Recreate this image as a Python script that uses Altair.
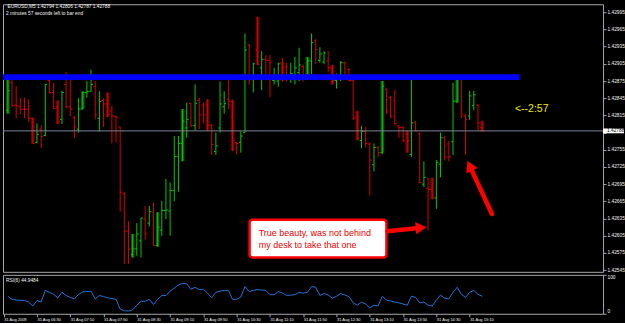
import json
import altair as alt
import pandas as pd

# ---------------- data ----------------
BAR = list(range(1, 116))  # 5-minute bars, 1 = 05:55
OPEN = [1.42824, 1.42872, 1.42833, 1.42830, 1.42826, 1.42826, 1.42810, 1.42768, 1.42791, 1.42780,
        1.42876, 1.42855, 1.42830, 1.42808, 1.42869, 1.42830, 1.42811, 1.42791, 1.42826, 1.42855,
        1.42857, 1.42865, 1.42810, 1.42841, 1.42835, 1.42823, 1.42814, 1.42795, 1.42678, 1.42613,
        1.42572, 1.42582, 1.42596, 1.42634, 1.42627, 1.42646, 1.42588, 1.42615, 1.42649, 1.42648,
        1.42684, 1.42743, 1.42766, 1.42793, 1.42836, 1.42797, 1.42841, 1.42833, 1.42833, 1.42798,
        1.42752, 1.42793, 1.42830, 1.42843, 1.42840, 1.42768, 1.42768, 1.42785, 1.42938, 1.42878,
        1.42929, 1.42898, 1.42913, 1.42911, 1.42876, 1.42875, 1.42907, 1.42900, 1.42881, 1.42881,
        1.42890, 1.42900, 1.42882, 1.42910, 1.42945, 1.42911, 1.42908, 1.42910, 1.42898, 1.42876,
        1.42880, 1.42907, 1.42895, 1.42876, 1.42811, 1.42771, 1.42787, 1.42765, 1.42729, 1.42759,
        1.42750, 1.42861, 1.42846, 1.42840, 1.42797, 1.42794, 1.42782, 1.42747, 1.42802, 1.42783,
        1.42695, 1.42688, 1.42686, 1.42671, 1.42730, 1.42776, 1.42765, 1.42769, 1.42840, 1.42880,
        1.42814, 1.42814, 1.42832, 1.42833, 1.42794]
HIGH = [1.42886, 1.42886, 1.42866, 1.42846, 1.42846, 1.42843, 1.42811, 1.42801, 1.42798, 1.42870,
        1.42878, 1.42872, 1.42841, 1.42858, 1.42891, 1.42881, 1.42814, 1.42845, 1.42857, 1.42875,
        1.42895, 1.42875, 1.42857, 1.42845, 1.42855, 1.42832, 1.42814, 1.42795, 1.42681, 1.42630,
        1.42608, 1.42627, 1.42636, 1.42657, 1.42657, 1.42663, 1.42646, 1.42666, 1.42704, 1.42698,
        1.42779, 1.42779, 1.42826, 1.42837, 1.42837, 1.42869, 1.42846, 1.42837, 1.42843, 1.42800,
        1.42785, 1.42874, 1.42857, 1.42876, 1.42843, 1.42768, 1.42787, 1.42958, 1.42939, 1.42907,
        1.42987, 1.42927, 1.42920, 1.42920, 1.42898, 1.42907, 1.42915, 1.42907, 1.42907, 1.42917,
        1.42933, 1.42904, 1.42917, 1.42958, 1.42948, 1.42934, 1.42927, 1.42927, 1.42903, 1.42888,
        1.42910, 1.42909, 1.42898, 1.42878, 1.42823, 1.42797, 1.42795, 1.42768, 1.42766, 1.42762,
        1.42875, 1.42862, 1.42849, 1.42859, 1.42798, 1.42797, 1.42788, 1.42884, 1.42805, 1.42785,
        1.42735, 1.42706, 1.42706, 1.42737, 1.42785, 1.42779, 1.42771, 1.42872, 1.42884, 1.42884,
        1.42817, 1.42858, 1.42858, 1.42835, 1.42806]
LOW = [1.42818, 1.42830, 1.42810, 1.42817, 1.42810, 1.42804, 1.42766, 1.42766, 1.42758, 1.42779,
       1.42853, 1.42826, 1.42800, 1.42800, 1.42827, 1.42814, 1.42776, 1.42785, 1.42826, 1.42846,
       1.42857, 1.42808, 1.42787, 1.42795, 1.42812, 1.42766, 1.42768, 1.42647, 1.42556, 1.42556,
       1.42567, 1.42570, 1.42567, 1.42598, 1.42621, 1.42588, 1.42586, 1.42605, 1.42634, 1.42605,
       1.42665, 1.42682, 1.42735, 1.42776, 1.42795, 1.42789, 1.42791, 1.42801, 1.42788, 1.42746,
       1.42746, 1.42785, 1.42818, 1.42826, 1.42753, 1.42747, 1.42750, 1.42785, 1.42869, 1.42855,
       1.42903, 1.42859, 1.42876, 1.42847, 1.42869, 1.42865, 1.42874, 1.42875, 1.42872, 1.42869,
       1.42875, 1.42874, 1.42880, 1.42887, 1.42905, 1.42907, 1.42905, 1.42891, 1.42869, 1.42862,
       1.42875, 1.42880, 1.42874, 1.42807, 1.42771, 1.42758, 1.42759, 1.42675, 1.42717, 1.42742,
       1.42747, 1.42817, 1.42810, 1.42798, 1.42776, 1.42768, 1.42750, 1.42742, 1.42787, 1.42696,
       1.42690, 1.42614, 1.42669, 1.42652, 1.42707, 1.42736, 1.42735, 1.42746, 1.42837, 1.42810,
       1.42746, 1.42807, 1.42824, 1.42788, 1.42787]
CLOSE = [1.42858, 1.42832, 1.42832, 1.42826, 1.42826, 1.42810, 1.42766, 1.42782, 1.42778, 1.42869,
         1.42855, 1.42827, 1.42804, 1.42855, 1.42830, 1.42826, 1.42795, 1.42826, 1.42855, 1.42857,
         1.42869, 1.42816, 1.42839, 1.42835, 1.42817, 1.42814, 1.42812, 1.42681, 1.42613, 1.42582,
         1.42582, 1.42608, 1.42636, 1.42608, 1.42647, 1.42588, 1.42620, 1.42649, 1.42650, 1.42684,
         1.42743, 1.42766, 1.42805, 1.42808, 1.42797, 1.42836, 1.42816, 1.42816, 1.42798, 1.42764,
         1.42762, 1.42835, 1.42836, 1.42840, 1.42771, 1.42766, 1.42779, 1.42929, 1.42878, 1.42905,
         1.42904, 1.42913, 1.42911, 1.42907, 1.42878, 1.42905, 1.42898, 1.42884, 1.42888, 1.42898,
         1.42903, 1.42882, 1.42910, 1.42942, 1.42930, 1.42922, 1.42924, 1.42898, 1.42876, 1.42882,
         1.42907, 1.42884, 1.42876, 1.42810, 1.42776, 1.42787, 1.42766, 1.42737, 1.42759, 1.42750,
         1.42866, 1.42823, 1.42814, 1.42801, 1.42794, 1.42771, 1.42771, 1.42802, 1.42788, 1.42698,
         1.42707, 1.42686, 1.42671, 1.42733, 1.42776, 1.42742, 1.42743, 1.42840, 1.42880, 1.42817,
         1.42808, 1.42849, 1.42851, 1.42802, 1.42788]
RSI = [45, 37, 35, 34.5, 34, 30, 20, 34, 30, 60, 55, 50, 41, 55, 47, 42, 38, 50, 56, 57,
       58, 38, 47, 44, 41, 39, 37, 12, 8, 7, 10, 22, 32, 32, 37, 24, 37, 47, 47, 58,
       66, 74, 78, 77, 63, 68, 62, 63, 53, 41, 55, 58, 60, 60, 37, 37, 43, 70, 57, 60,
       62, 61, 60, 49, 49, 57, 53, 47, 48, 49, 55, 53, 55, 70, 68, 47, 52, 48, 40, 45,
       52, 48, 44, 28, 22, 30, 25, 15, 22, 20, 45, 35, 33, 30, 28, 25, 22, 45, 42, 28,
       30, 22, 20, 35, 48, 40, 38, 55, 68, 50, 42, 55, 60, 50, 44.9484]

# wide dark bodies drawn every sixth bar
BODY_BAR = [1, 7, 13, 19, 25, 31, 37, 43, 49, 55, 61, 67, 73, 79, 85, 91, 97, 103, 109, 115]
BODY_TOP = [1.42886, 1.42811, 1.42841, 1.42857, 1.42855, 1.42608, 1.42646, 1.42826, 1.42843, 1.42840,
            1.42987, 1.42907, 1.42917, 1.42903, 1.42823, 1.42875, 1.42788, 1.42706, 1.42884, 1.42805]
BODY_BOTTOM = [1.42818, 1.42766, 1.42800, 1.42826, 1.42812, 1.42567, 1.42586, 1.42735, 1.42788, 1.42753,
               1.42904, 1.42875, 1.42882, 1.42869, 1.42772, 1.42750, 1.42750, 1.42669, 1.42837, 1.42787]
BODY_UP = [True, False, False, True, False, True, True, True, False, False,
           False, False, True, False, False, True, False, False, True, False]

TIME_TICKS = [0, 8, 16, 24, 32, 40, 48, 56, 64, 72, 80, 88, 96, 104, 112]
TIME_LABELS = ["31 Aug 2009", "31 Aug 06:30", "31 Aug 07:10", "31 Aug 07:50", "31 Aug 08:30",
               "31 Aug 09:10", "31 Aug 09:50", "31 Aug 10:30", "31 Aug 11:10", "31 Aug 11:50",
               "31 Aug 12:30", "31 Aug 13:10", "31 Aug 13:50", "31 Aug 14:30", "31 Aug 15:10"]
PRICE_TICKS = [1.42545, 1.42575, 1.42605, 1.42635, 1.42665, 1.42695, 1.42725, 1.42755,
               1.42785, 1.42815, 1.42845, 1.42875, 1.42905, 1.42935, 1.42965, 1.42995]
RSI_TICKS = [0, 100]

LEVEL_BAND = [1.42877, 1.42887]
LEVEL_SPAN = [-0.168, 124.0]
HEADER = ["EURUSD,M5  1.42794 1.42806 1.42787 1.42788", "2 minutes 57 seconds left to bar end"]
RSI_LABEL = ["RSI(6) 44.9484"]
TIMER = {"text": ["<--2:57"], "i": [122.9], "p": [1.42827]}
NOTE_LINES = ["True beauty, was not behind", "my desk to take that one"]
NOTE_LINE_P = [1.42609, 1.42589]
NOTE_TEXT_I = 61.3
NOTE_BOX_I = [59.1, 92.0]
NOTE_BOX_P = [1.42633, 1.42567]
ARROW_TAIL_I = [92.2, 117.35]
ARROW_TAIL_P = [1.42613, 1.42643]
ARROW_HEAD_I = [100.3, 112.0]
ARROW_HEAD_P = [1.42619, 1.42727]
ARROW_ANGLE = [85, 335]

# ---------------- styling ----------------
GREEN, RED = "#06c806", "#d80000"
DGREEN, DRED = "#0a5f0a", "#6a0404"
FONT = "Liberation Sans"
TXT = "#f4f4f4"
W, H_MAIN, H_RSI = 601, 268, 39

bars = pd.DataFrame({"i": BAR, "o": OPEN, "h": HIGH, "l": LOW, "c": CLOSE})
bodies = pd.DataFrame({"i": BODY_BAR, "t": BODY_TOP, "b": BODY_BOTTOM, "up": BODY_UP})
rsi = pd.DataFrame({"i": BAR, "rsi": RSI})

last = CLOSE[-1]
xs = alt.Scale(domain=[-0.168, 144.06], nice=False, zero=False)
ys = alt.Scale(domain=[1.42542, 1.43009], nice=False, zero=False)
# the tick label hidden behind the current-price box is left blank
yaxis = alt.Axis(orient="right", values=PRICE_TICKS, title=None, tickSize=3,
                 labelExpr=f"abs(datum.value - {last}) < 0.0001 ? '' : format(datum.value, '.5f')",
                 labelPadding=1, labelFontSize=4.8, labelOverlap=False, labelFlush=False,
                 grid=False, domain=False)


def X(f):
    return alt.X(f, type="quantitative", scale=xs, axis=None)


def Y(f):
    return alt.Y(f, type="quantitative", scale=ys, axis=yaxis)


bar_color = alt.condition("datum.c > datum.o", alt.value(GREEN), alt.value(RED))

body_layer = alt.Chart(bodies).transform_calculate(
    bl="datum.i - 0.42", br="datum.i + 0.42"
).mark_rect().encode(
    x=X("bl"), x2="br", y=Y("t"), y2="b",
    color=alt.condition("datum.up", alt.value(DGREEN), alt.value(DRED)),
)

base = alt.Chart(bars).transform_calculate(il="datum.i - 0.45", ir="datum.i + 0.45")
hl_layer = base.mark_rule(strokeWidth=1).encode(x=X("i"), y=Y("l"), y2="h", color=bar_color)
open_layer = base.mark_rule(strokeWidth=1).encode(x=X("il"), x2="i", y=Y("o"), color=bar_color)
close_layer = base.mark_rule(strokeWidth=1).encode(x=X("i"), x2="ir", y=Y("c"), color=bar_color)

bid = pd.DataFrame({"p": [last], "lbl": [f"{last:.5f}"]})
bid_line = alt.Chart(bid).mark_rule(color="#7a8796", strokeWidth=1).encode(
    y=Y("p"), x=alt.value(0), x2=alt.value(W))
bid_box = alt.Chart(bid).transform_calculate(
    pt="datum.p + 0.000042", pb="datum.p - 0.000042"
).mark_rect(color="#ffffff").encode(y=Y("pt"), y2="pb", x=alt.value(W), x2=alt.value(W + 21))
bid_text = alt.Chart(bid).mark_text(align="left", baseline="middle", font=FONT, fontSize=4.8,
                                    color="#000000").encode(y=Y("p"), x=alt.value(W + 4), text="lbl")

band = alt.Chart(pd.DataFrame({"i0": [LEVEL_SPAN[0]], "i1": [LEVEL_SPAN[1]],
                               "p0": [LEVEL_BAND[0]], "p1": [LEVEL_BAND[1]]})).mark_rect(
    color="#0000ff").encode(x=X("i0"), x2="i1", y=Y("p0"), y2="p1")

header1 = alt.Chart(pd.DataFrame({"t": [HEADER[0]]})).mark_text(
    align="left", baseline="middle", font=FONT, fontSize=4.8, color=TXT
).encode(text="t:N", x=alt.value(4.5), y=alt.value(3))
header2 = alt.Chart(pd.DataFrame({"t": [HEADER[1]]})).mark_text(
    align="left", baseline="middle", font=FONT, fontSize=4.8, color=TXT
).encode(text="t:N", x=alt.value(3), y=alt.value(9.7))

timer = alt.Chart(pd.DataFrame(TIMER)).mark_text(
    align="left", baseline="middle", font=FONT, fontSize=10.5, color="#f2e600"
).encode(x=X("i"), y=Y("p"), text="text:N")

note_box = alt.Chart(pd.DataFrame({"i0": [NOTE_BOX_I[0]], "i1": [NOTE_BOX_I[1]],
                                   "p0": [NOTE_BOX_P[0]], "p1": [NOTE_BOX_P[1]]})).mark_rect(
    fill="#ffffff", stroke="#ff0000", strokeWidth=2.5, cornerRadius=3
).encode(x=X("i0"), x2="i1", y=Y("p0"), y2="p1")
note_text = alt.Chart(pd.DataFrame({"t": NOTE_LINES, "p": NOTE_LINE_P,
                                    "i": [NOTE_TEXT_I] * len(NOTE_LINES)})).mark_text(
    align="left", baseline="middle", font=FONT, fontSize=9, color="#ee0000"
).encode(x=X("i"), y=Y("p"), text="t:N")

arrows = pd.DataFrame({"ti": ARROW_TAIL_I, "tp": ARROW_TAIL_P, "hi": ARROW_HEAD_I,
                       "hp": ARROW_HEAD_P, "a": ARROW_ANGLE})
arrow_shaft = alt.Chart(arrows).mark_rule(color="#ff0000", strokeWidth=4.5, strokeCap="round").encode(
    x=X("ti"), y=Y("tp"), x2="hi", y2="hp")
arrow_head = alt.Chart(arrows).mark_point(shape="triangle-up", filled=True, color="#ff0000",
                                          size=150, opacity=1).encode(
    x=X("hi"), y=Y("hp"), angle=alt.Angle("a:Q", scale=None))

main = alt.layer(body_layer, hl_layer, open_layer, close_layer, bid_line, band,
                 header1, header2, timer, note_box, note_text, arrow_shaft, arrow_head,
                 bid_box, bid_text).properties(width=W, height=H_MAIN)

xaxis = alt.Axis(values=TIME_TICKS, labelExpr=f"{json.dumps(TIME_LABELS)}[round(datum.value / 8)]",
                 title=None, tickSize=3, labelAlign="left", labelPadding=1, labelFontSize=4,
                 labelOverlap=False, labelFlush=False, grid=False, domain=False)
rsi_line = alt.Chart(rsi).mark_line(color="#2272d6", strokeWidth=1).encode(
    x=alt.X("i:Q", scale=xs, axis=xaxis),
    y=alt.Y("rsi:Q", scale=alt.Scale(domain=[0, 100], nice=False),
            axis=alt.Axis(orient="right", values=RSI_TICKS, title=None, tickSize=3, labelPadding=1,
                          labelFontSize=4.8, grid=False, domain=False,
                          labelBaseline={"condition": {"test": "datum.value == 100", "value": "top"},
                                         "value": "bottom"})),
)
rsi_label = alt.Chart(pd.DataFrame({"t": RSI_LABEL})).mark_text(
    align="left", baseline="middle", font=FONT, fontSize=4.8, color=TXT
).encode(text="t:N", x=alt.value(3), y=alt.value(6))
rsi_chart = alt.layer(rsi_line, rsi_label).properties(width=W, height=H_RSI)

chart = alt.vconcat(main, rsi_chart, spacing=3, bounds="flush").configure(
    background="#000000",
    padding={"left": 2, "top": 3, "right": 0, "bottom": 0},
).configure_view(stroke="#a8a8a8", strokeWidth=1).configure_axis(
    labelColor=TXT, tickColor="#a8a8a8", labelFont=FONT
)

chart.save("out.html", embed_options={"renderer": "svg", "actions": False})
